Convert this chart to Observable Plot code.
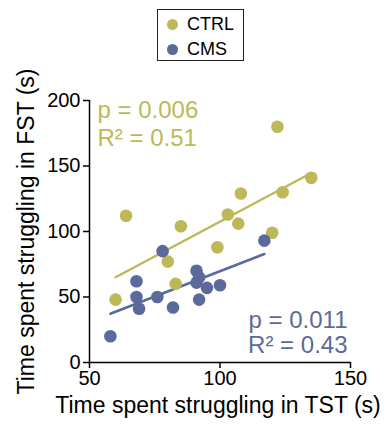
<!DOCTYPE html>
<html>
<head>
<meta charset="utf-8">
<script src="https://cdn.jsdelivr.net/npm/d3@7"></script>
<script src="https://cdn.jsdelivr.net/npm/@observablehq/plot@0.6"></script>
<style>
  body { margin: 0; background: #fff; font-family: "Liberation Sans", Arial, sans-serif; }
  #wrap { width: 388px; }
  #legend { position: relative; height: 64px; }
  #box { position: absolute; left: 157px; top: 9px; width: 87px; height: 52px; border: 1px solid #222; box-sizing: border-box; }
  .item { position: absolute; left: 0; height: 20px; display: flex; align-items: center; font-size: 18px; color: #000; }
  .sw { width: 11px; height: 11px; border-radius: 50%; margin-left: 9px; margin-right: 9px; }
</style>
</head>
<body>
<div id="wrap">
  <div id="legend"><div id="box"></div></div>
  <div id="chart"></div>
</div>
<script>
const groups = ["CTRL", "CMS"];
const colors = ["#bdb858", "#5b6a9b"];

const ctrlTST = [122, 135, 124, 108, 64, 103, 85, 107, 120, 99, 80, 83, 60];
const ctrlFST = [180, 141, 130, 129, 112, 113, 104, 106, 99, 88, 77, 60, 48];

const cmsTST = [58, 68, 68, 69, 76, 78, 82, 91, 92, 91, 92, 95, 100, 117];
const cmsFST = [20, 62, 50, 41, 50, 85, 42, 70, 65, 61, 48, 57, 59, 93];

const xTicks = [50, 100, 150];
const yTicks = [0, 50, 100, 150, 200];

const ctrlStats = ["p = 0.006", "R\u00b2 = 0.51"];
const cmsStats = ["p = 0.011", "R\u00b2 = 0.43"];

const xLabel = "Time spent struggling in TST (s)";
const yLabel = "Time spent struggling in FST (s)";

const ctrl = ctrlTST.map((x, i) => ({x, y: ctrlFST[i], g: "CTRL"}));
const cms = cmsTST.map((x, i) => ({x, y: cmsFST[i], g: "CMS"}));

// legend
const box = document.getElementById("box");
groups.forEach((g, i) => {
  const it = document.createElement("div");
  it.className = "item";
  it.style.top = (4 + i * 25) + "px";
  it.innerHTML = `<span class="sw" style="background:${colors[i]}"></span><span>${g}</span>`;
  box.appendChild(it);
});

const font = "Liberation Sans, Arial, sans-serif";

const chart = Plot.plot({
  width: 388,
  height: 362,
  marginLeft: 89,
  marginRight: 38,
  marginTop: 36,
  marginBottom: 64,
  style: {fontFamily: font, fontSize: "19px", color: "#000", background: "#fff", overflow: "visible"},
  x: {domain: [50, 150], ticks: xTicks},
  y: {domain: [0, 200], ticks: yTicks},
  marks: [
    Plot.axisX({ticks: xTicks, tickSize: 6, tickPadding: 2, label: null, fontSize: 20, strokeWidth: 1.5}),
    Plot.axisY({ticks: yTicks, tickSize: 6, tickPadding: 3, label: null, fontSize: 20, strokeWidth: 1.5}),
    Plot.ruleY([0], {stroke: "#000", strokeWidth: 1.5}),
    Plot.ruleX([50], {stroke: "#000", strokeWidth: 1.5}),
    Plot.linearRegressionY(ctrl, {x: "x", y: "y", stroke: colors[0], strokeWidth: 2.5, ci: 0}),
    Plot.linearRegressionY(cms, {x: "x", y: "y", stroke: colors[1], strokeWidth: 2.5, ci: 0}),
    Plot.dot(ctrl, {x: "x", y: "y", r: 6.3, fill: colors[0]}),
    Plot.dot(cms, {x: "x", y: "y", r: 6.3, fill: colors[1]}),
    Plot.text([ctrlStats[0]], {frameAnchor: "top-left", dx: 8, dy: 17, textAnchor: "start", lineAnchor: "bottom", fill: colors[0], fontSize: 24}),
    Plot.text([ctrlStats[1]], {frameAnchor: "top-left", dx: 8, dy: 45, textAnchor: "start", lineAnchor: "bottom", fill: colors[0], fontSize: 24}),
    Plot.text([cmsStats[0]], {frameAnchor: "bottom-right", dx: -3, dy: -35, textAnchor: "end", lineAnchor: "bottom", fill: colors[1], fontSize: 24}),
    Plot.text([cmsStats[1]], {frameAnchor: "bottom-right", dx: -3, dy: -10, textAnchor: "end", lineAnchor: "bottom", fill: colors[1], fontSize: 24}),
    Plot.text([xLabel], {frameAnchor: "bottom", dx: -2, dy: 50, textAnchor: "middle", lineAnchor: "bottom", fill: "#000", fontSize: 23}),
    Plot.text([yLabel], {frameAnchor: "left", dx: -63, rotate: -90, textAnchor: "middle", lineAnchor: "middle", fill: "#000", fontSize: 23})
  ]
});
document.getElementById("chart").appendChild(chart);
</script>
</body>
</html>
